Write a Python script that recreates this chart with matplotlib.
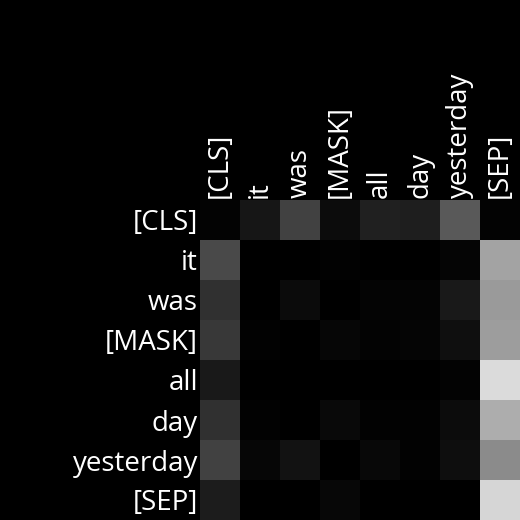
import numpy as np
import matplotlib
matplotlib.use("Agg")
import matplotlib.pyplot as plt

tokens = ["[CLS]", "it", "was", "[MASK]", "all", "day", "yesterday", "[SEP]"]

# attention weights, row = query token, column = key token
attn_cls = [0.012, 0.086, 0.255, 0.047, 0.129, 0.118, 0.353, 0.012]
attn_it = [0.290, 0.000, 0.000, 0.008, 0.000, 0.000, 0.020, 0.639]
attn_was = [0.192, 0.000, 0.043, 0.000, 0.016, 0.016, 0.098, 0.604]
attn_mask = [0.220, 0.008, 0.000, 0.027, 0.012, 0.020, 0.059, 0.616]
attn_all = [0.098, 0.000, 0.000, 0.000, 0.000, 0.000, 0.012, 0.859]
attn_day = [0.188, 0.008, 0.000, 0.039, 0.008, 0.008, 0.047, 0.678]
attn_yesterday = [0.255, 0.024, 0.071, 0.000, 0.035, 0.008, 0.055, 0.545]
attn_sep = [0.110, 0.000, 0.000, 0.031, 0.000, 0.000, 0.000, 0.839]

attn = np.array([attn_cls, attn_it, attn_was, attn_mask,
                 attn_all, attn_day, attn_yesterday, attn_sep])

plt.rcParams['font.family'] = ['Open Sans', 'DejaVu Sans']

fig = plt.figure(figsize=(5.2, 5.2), dpi=100, facecolor='black')
ax = fig.add_axes([200/520, 0, 320/520, 320/520])
ax.imshow(attn, cmap='gray', vmin=0, vmax=1, interpolation='nearest', aspect='auto')

ax.set_xticks(range(len(tokens)))
ax.set_yticks(range(len(tokens)))
ax.set_xticklabels(tokens, rotation=90, color='white', fontsize=20)
ax.set_yticklabels(tokens, color='white', fontsize=20)
ax.xaxis.tick_top()
ax.tick_params(length=0, pad=1.5)
for s in ax.spines.values():
    s.set_visible(False)

fig.savefig("out.png", dpi=100, facecolor='black')
